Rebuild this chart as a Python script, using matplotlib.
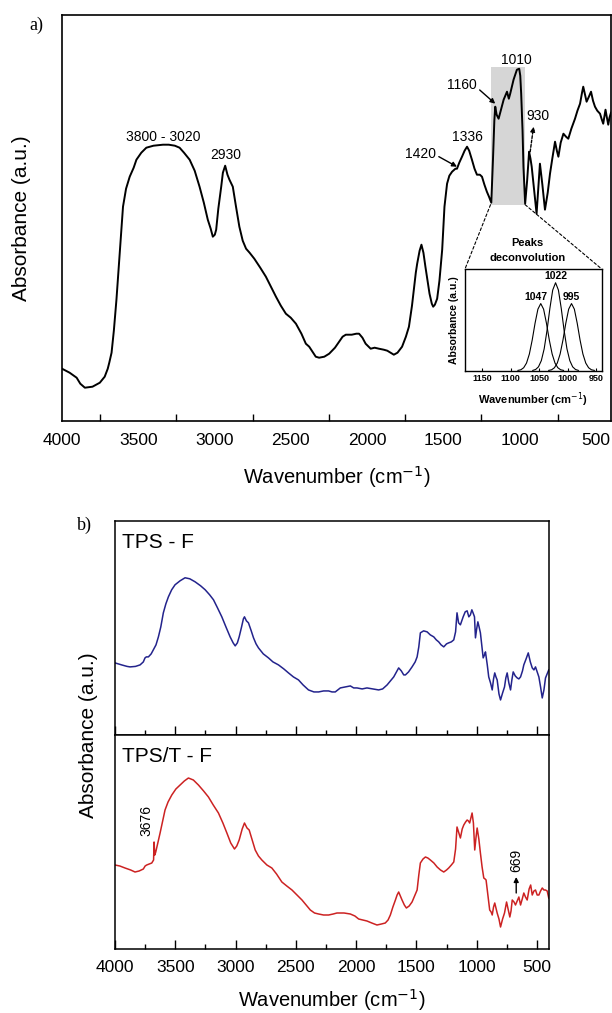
import matplotlib
matplotlib.use('Agg')
import matplotlib.pyplot as plt
import numpy as np
from matplotlib.patches import Rectangle, ConnectionPatch
from matplotlib.ticker import MultipleLocator

plt.rcParams['font.family'] = ['Liberation Sans', 'DejaVu Sans']

# ---- panel a) : FTIR spectrum (a.u.) ----
wn_a = [4000, 3950, 3904, 3880, 3850, 3800, 3752, 3720, 3700, 3690, 3675, 3660, 3643, 3620,
        3600, 3580, 3556, 3530, 3512, 3480, 3447, 3400, 3338, 3300, 3260, 3229, 3200, 3163,
        3130, 3098, 3070, 3044, 3025, 3011, 2998, 2989, 2975, 2956, 2945, 2930, 2915, 2902,
        2880, 2860, 2837, 2815, 2793, 2770, 2739, 2700, 2663, 2630, 2597, 2565, 2532, 2500,
        2466, 2430, 2401, 2379, 2336, 2314, 2280, 2248, 2210, 2183, 2160, 2139, 2100, 2070,
        2052, 2030, 2009, 1976, 1950, 1922, 1890, 1867, 1845, 1824, 1800, 1770, 1745, 1725,
        1705, 1693, 1680, 1671, 1655, 1643, 1630, 1617, 1600, 1590, 1575, 1566, 1555, 1540,
        1525, 1507, 1492, 1475, 1460, 1442, 1420, 1410, 1395, 1377, 1360, 1344, 1330, 1312,
        1295, 1279, 1260, 1246, 1230, 1214, 1200, 1185, 1174, 1165, 1159, 1150, 1137, 1120,
        1104, 1090, 1082, 1070, 1061, 1050, 1039, 1028, 1017, 1002, 995, 989, 980, 974,
        963, 950, 937, 928, 920, 905, 888, 876, 866, 850, 833, 815, 800, 785, 767, 755,
        745, 730, 712, 695, 680, 660, 636, 620, 603, 590, 582, 570, 560, 545, 531, 518,
        505, 490, 472, 460, 451, 436, 428, 418, 410, 400]
abs_a = [52, 48, 43, 37, 33, 34, 38, 44, 52, 58, 68, 90, 121, 170,
         214, 232, 244, 253, 261, 268, 273, 275, 276, 276, 275, 273, 268, 261,
         250, 234, 218, 201, 192, 184, 186, 191, 212, 234, 248, 255, 246, 241,
         234, 215, 194, 180, 172, 168, 162, 153, 144, 134, 124, 115, 107, 103,
         97, 87, 77, 74, 64, 63, 64, 67, 73, 79, 84, 86, 86, 87,
         87, 83, 77, 72, 73, 72, 71, 70, 68, 66, 68, 74, 84, 94,
         115, 131, 148, 157, 170, 176, 168, 154, 137, 127, 117, 114, 116, 122,
         140, 171, 214, 237, 245, 249, 252, 252, 258, 264, 270, 274, 270, 261,
         252, 246, 246, 244, 236, 229, 224, 218, 261, 300, 314, 306, 302, 312,
         321, 326, 329, 322, 327, 334, 341, 346, 351, 352, 345, 327, 290, 254,
         217, 240, 269, 262, 254, 232, 207, 235, 257, 236, 211, 228, 247, 262, 279, 270,
         264, 278, 287, 284, 282, 292, 302, 310, 317, 328, 334, 326, 319, 324, 329, 320,
         314, 310, 307, 301, 297, 311, 304, 296, 303, 308]

# inset: deconvoluted peaks (normalised)
peak_labels = ['1047', '1022', '995']
wn_p1 = [1087, 1082, 1077, 1072, 1067, 1062, 1057, 1052, 1047, 1042, 1037, 1032, 1027, 1022, 1017, 1012, 1007]
abs_p1 = [0.003, 0.009, 0.029, 0.075, 0.164, 0.302, 0.467, 0.605, 0.66, 0.605, 0.467, 0.302, 0.164, 0.075, 0.029, 0.009, 0.003]
wn_p2 = [1061, 1056, 1051, 1046, 1041, 1036, 1031, 1026, 1021, 1016, 1011, 1006, 1001, 996, 991, 986, 981]
abs_p2 = [0.003, 0.012, 0.038, 0.099, 0.215, 0.396, 0.612, 0.793, 0.865, 0.793, 0.612, 0.396, 0.215, 0.099, 0.038, 0.012, 0.003]
wn_p3 = [1033, 1028, 1023, 1018, 1013, 1008, 1003, 998, 993, 988, 983, 978, 973, 968, 963, 958, 953]
abs_p3 = [0.003, 0.009, 0.029, 0.075, 0.164, 0.302, 0.467, 0.605, 0.66, 0.605, 0.467, 0.302, 0.164, 0.075, 0.029, 0.009, 0.003]

# ---- panel b) : TPS - F and TPS/T - F ----
wn_tps = [4000, 3945, 3900, 3875, 3830, 3792, 3765, 3751, 3740, 3723, 3700, 3682, 3660, 3640,
          3620, 3599, 3578, 3557, 3530, 3502, 3460, 3419, 3380, 3336, 3290, 3252, 3215, 3183,
          3150, 3114, 3080, 3045, 3020, 3003, 2985, 2970, 2950, 2935, 2926, 2910, 2893, 2870,
          2851, 2830, 2810, 2770, 2727, 2690, 2644, 2600, 2561, 2520, 2478, 2440, 2395, 2350,
          2311, 2270, 2228, 2200, 2173, 2131, 2090, 2048, 2020, 1993, 1950, 1910, 1860, 1813,
          1780, 1743, 1715, 1688, 1665, 1647, 1625, 1605, 1591, 1565, 1536, 1510, 1494, 1480,
          1467, 1440, 1411, 1385, 1356, 1335, 1315, 1295, 1273, 1250, 1232, 1210, 1190, 1175,
          1163, 1150, 1135, 1112, 1095, 1079, 1065, 1052, 1040, 1030, 1018, 1010, 1000, 990,
          980, 969, 955, 946, 935, 927, 912, 900, 885, 871, 860, 850, 840, 830, 815, 802,
          785, 769, 758, 747, 733, 719, 708, 697, 680, 664, 650, 636, 620, 609, 590, 572,
          555, 539, 525, 512, 498, 484, 470, 456, 442, 429, 415, 402]
abs_tps = [72, 70, 68.5, 68, 68.5, 70, 73, 77, 78, 78, 81, 85, 90, 98,
           108, 122, 131, 138, 145, 150, 154, 157, 156, 153, 149, 145, 140, 135,
           127, 118, 108, 98, 92, 89, 92, 98, 108, 116, 118, 114, 112, 104,
           97, 91, 87, 81, 77, 73, 70, 66, 62, 58, 55, 50, 45, 43,
           43, 44, 44, 43, 43, 47, 48, 49, 47, 47, 46, 47, 46, 45,
           46, 50, 54, 58, 63, 67, 64, 60, 60, 63, 68, 73, 78, 88,
           102, 104, 103, 100, 98, 95, 93, 90, 88, 91, 92, 93, 95, 103,
           122, 112, 110, 118, 123, 124, 118, 120, 125, 122, 118, 97, 106, 113,
           108, 102, 87, 77, 80, 83, 70, 58, 52, 45, 56, 62, 58, 55, 41, 35,
           42, 48, 57, 62, 52, 45, 55, 63, 59, 57, 56, 58, 64, 70, 76, 82,
           73, 67, 65, 68, 63, 58, 48, 37, 45, 57, 61, 65]

wn_tpst = [4000, 3960, 3917, 3870, 3834, 3800, 3765, 3750, 3737, 3715, 3695, 3685, 3680, 3676,
           3670, 3662, 3645, 3626, 3605, 3585, 3560, 3529, 3495, 3460, 3425, 3391, 3350, 3308,
           3265, 3225, 3185, 3142, 3105, 3072, 3040, 3009, 2990, 2970, 2945, 2926, 2905, 2887,
           2860, 2837, 2810, 2782, 2740, 2699, 2660, 2616, 2575, 2532, 2490, 2449, 2415, 2380,
           2345, 2311, 2270, 2228, 2190, 2159, 2100, 2048, 2010, 1979, 1945, 1910, 1870, 1827,
           1790, 1758, 1735, 1716, 1695, 1674, 1660, 1647, 1633, 1619, 1600, 1583, 1560, 1536,
           1515, 1494, 1480, 1467, 1445, 1425, 1405, 1384, 1355, 1328, 1300, 1273, 1250, 1232,
           1210, 1190, 1175, 1163, 1150, 1135, 1120, 1107, 1092, 1079, 1068, 1058, 1048, 1038,
           1027, 1016, 1005, 996, 982, 969, 955, 941, 930, 922, 905, 892, 880, 871, 860, 850,
           840, 830, 815, 802, 785, 769, 760, 752, 738, 725, 715, 705, 690, 678, 664, 650,
           636, 622, 609, 595, 581, 565, 552, 539, 525, 512, 498, 484, 470, 456, 442, 429,
           415, 402]
abs_tpst = [84, 83, 81, 79, 77, 78, 80, 83, 84, 85, 86, 88, 89, 107,
            94, 97, 106, 116, 128, 139, 147, 154, 160, 164, 168, 171, 169, 164,
            158, 152, 144, 136, 126, 116, 106, 100, 103, 109, 120, 126, 121, 119,
            108, 99, 93, 89, 84, 81, 75, 67, 63, 59, 54, 49, 44, 39,
            36, 35, 34, 34, 35, 36, 36, 35, 33, 30, 29, 28, 26, 24,
            25, 26, 29, 34, 42, 49, 54, 57, 53, 49, 44, 41, 43, 47,
            53, 59, 74, 86, 90, 92, 91, 89, 86, 82, 79, 77, 79, 81,
            84, 87, 100, 122, 117, 111, 120, 124, 127, 129, 128, 126, 131, 136,
            126, 99, 112, 121, 110, 96, 82, 71, 70, 69, 52, 39, 37, 34, 42, 46,
            41, 36, 30, 22, 30, 36, 42, 47, 39, 32, 38, 49, 47, 44, 48, 52,
            44, 50, 56, 52, 49, 60, 64, 54, 58, 59, 54, 54, 58, 61, 59, 59,
            58, 51]

xmajor = [4000, 3500, 3000, 2500, 2000, 1500, 1000, 500]
xlab = r'Wavenumber (cm$^{-1}$)'
ylab = 'Absorbance (a.u.)'

fig = plt.figure(figsize=(6.12, 10.13), dpi=100)

# panel a
ax = fig.add_axes([62/612, 1-420.7/1013, 549/612, 405.7/1013])
ax.plot(wn_a, abs_a, color='k', lw=1.4, zorder=3)
ax.add_patch(Rectangle((963, 216), 1190-963, 354-216, facecolor='#d6d6d6', edgecolor='none', zorder=1))
ax.set_xlim(4000, 400)
ax.set_ylim(0, 405.7)
ax.set_yticks([])
ax.set_xticks(xmajor)
ax.xaxis.set_minor_locator(MultipleLocator(250))
ax.tick_params(axis='x', which='major', length=0, labelsize=12.5, pad=9)
ax.tick_params(axis='x', which='minor', direction='in', length=5, width=1)
for s in ax.spines.values():
    s.set_linewidth(1.2)
ax.set_xlabel(xlab, fontsize=14.5)
ax.xaxis.label.set_va('center')
ax.xaxis.set_label_coords(0.5, -0.138)
ax.set_ylabel(ylab, fontsize=15)
ax.yaxis.label.set_va('center')
ax.yaxis.set_label_coords(-0.0734, 0.5)

ax.text(3338, 284, '3800 - 3020', fontsize=10, ha='center', va='center')
ax.text(2924, 266, '2930', fontsize=10, ha='center', va='center')
ax.text(1344, 284, '1336', fontsize=10, ha='center', va='center')
ax.text(1018, 361, '1010', fontsize=10, ha='center', va='center')
arr = dict(arrowstyle='-|>', color='k', lw=1, mutation_scale=7, shrinkA=0, shrinkB=0)
ax.annotate('1160', xy=(1159, 317), xytext=(1377, 336), fontsize=10, ha='center', va='center',
            arrowprops=dict(arr, relpos=(1, 0.3)))
ax.annotate('1420', xy=(1410, 254), xytext=(1649, 267), fontsize=10, ha='center', va='center',
            arrowprops=dict(arr, relpos=(1, 0.4)))
ax.text(876, 305, '930', fontsize=10, ha='center', va='center')
ax.annotate('', xy=(908, 294), xytext=(930, 269),
            arrowprops=dict(arr, ls=(0, (2, 1.2))))

fig.text(36.7/612, 1-25/1013, 'a)', family='Liberation Serif', fontsize=13, ha='center', va='center')

# inset with peak deconvolution
axi = fig.add_axes([465/612, 1-370.7/1013, 136.7/612, 101.7/1013])
axi.plot(wn_p1, abs_p1, color='k', lw=0.8)
axi.plot(wn_p2, abs_p2, color='k', lw=0.8)
axi.plot(wn_p3, abs_p3, color='k', lw=0.8)
axi.set_xlim(1180, 940)
axi.set_ylim(0, 1)
axi.set_yticks([])
axi.set_xticks([1150, 1100, 1050, 1000, 950])
axi.tick_params(axis='x', direction='in', length=2.5, labelsize=6.5, pad=2.5)
for t in axi.get_xticklabels():
    t.set_fontweight('bold')
for s in axi.spines.values():
    s.set_linewidth(1)
axi.set_xlabel(xlab, fontsize=8, fontweight='bold')
axi.xaxis.label.set_va('center')
axi.xaxis.set_label_coords(0.5, -0.288)
axi.set_ylabel(ylab, fontsize=7.5, fontweight='bold')
axi.yaxis.label.set_va('center')
axi.yaxis.set_label_coords(-0.08, 0.5)
axi.text(1055, 0.728, peak_labels[0], fontsize=7.5, fontweight='bold', ha='center', va='center')
axi.text(1021, 0.931, peak_labels[1], fontsize=7.5, fontweight='bold', ha='center', va='center')
axi.text(993, 0.728, peak_labels[2], fontsize=7.5, fontweight='bold', ha='center', va='center')
axi.text(0.459, 1.253, 'Peaks', transform=axi.transAxes, fontsize=8, fontweight='bold', ha='center', va='center')
axi.text(0.459, 1.105, 'deconvolution', transform=axi.transAxes, fontsize=8, fontweight='bold', ha='center', va='center')
for xa, xb in [(1190, 0), (963, 1)]:
    con = ConnectionPatch(xyA=(xa, 216), coordsA=ax.transData, xyB=(xb, 1), coordsB=axi.transAxes,
                          color='k', lw=0.8, ls=(0, (2.5, 2)))
    fig.add_artist(con)

# panel b
axb1 = fig.add_axes([115/612, 1-735/1013, 434/612, 214.3/1013])
axb2 = fig.add_axes([115/612, 1-949/1013, 434/612, 214/1013])
axb1.plot(wn_tps, abs_tps, color='#23238c', lw=1.1)
axb2.plot(wn_tpst, abs_tpst, color='#cc2222', lw=1.1)
for a in (axb1, axb2):
    a.set_xlim(4000, 400)
    a.set_ylim(0, 214)
    a.set_yticks([])
    a.set_xticks(xmajor)
    a.xaxis.set_minor_locator(MultipleLocator(250))
    a.tick_params(axis='x', which='major', direction='in', length=6.5, width=1, labelsize=12.5, pad=8)
    a.tick_params(axis='x', which='minor', direction='in', length=3.3, width=1)
    for s in a.spines.values():
        s.set_linewidth(1.1)
axb1.tick_params(axis='x', labelbottom=False)
axb1.text(0.016, 0.896, 'TPS - F', transform=axb1.transAxes, fontsize=15, va='center')
axb2.text(0.016, 0.9, 'TPS/T - F', transform=axb2.transAxes, fontsize=15, va='center')
axb2.set_xlabel(xlab, fontsize=14.5)
axb2.xaxis.label.set_va('center')
axb2.xaxis.set_label_coords(0.5, -0.238)
axb2.set_ylabel(ylab, fontsize=15)
axb2.yaxis.label.set_va('center')
axb2.yaxis.set_label_coords(-0.062, 1.0)

axb2.text(3737, 128, '3676', fontsize=10, rotation=90, ha='center', va='center')
axb2.text(672, 88.5, '669', fontsize=10, rotation=90, ha='center', va='center')
axb2.annotate('', xy=(672, 72), xytext=(672, 56), arrowprops=arr)

fig.text(84/612, 1-525/1013, 'b)', family='Liberation Serif', fontsize=13, ha='center', va='center')

fig.savefig('out.png', dpi=100)
